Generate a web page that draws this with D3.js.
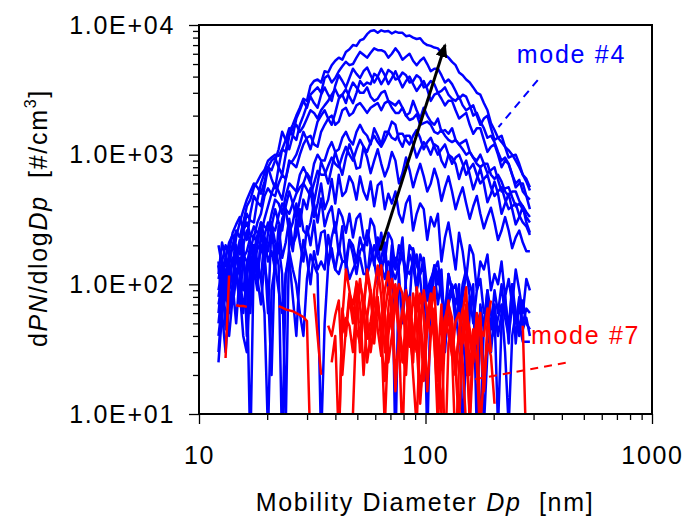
<!DOCTYPE html>
<html>
<head>
<meta charset="utf-8">
<script src="https://cdn.jsdelivr.net/npm/d3@7"></script>
<style>
  html, body { margin: 0; padding: 0; background: #fff; }
  text { font-family: "Liberation Sans", Arial, sans-serif; }
</style>
</head>
<body>
<div id="chart"></div>
<script>
// Mobility diameters of the size bins [nm] (64 bins per decade)
const diameters = [
  12.19, 12.64, 13.10, 13.58, 14.08, 14.59, 15.13, 15.68, 16.26, 16.85,
  17.47, 18.11, 18.77, 19.46, 20.17, 20.91, 21.68, 22.47, 23.29, 24.15,
  25.03, 25.95, 26.90, 27.88, 28.90, 29.96, 31.06, 32.20, 33.38, 34.60,
  35.87, 37.18, 38.54, 39.95, 41.42, 42.93, 44.51, 46.14, 47.83, 49.58,
  51.40, 53.28, 55.23, 57.25, 59.35, 61.52, 63.78, 66.11, 68.53, 71.04,
  73.65, 76.34, 79.14, 82.04, 85.04, 88.16, 91.39, 94.73, 98.20, 101.8,
  105.5, 109.4, 113.4, 117.6, 121.9, 126.3, 131.0, 135.8, 140.7, 145.9,
  151.2, 156.8, 162.5, 168.5, 174.6, 181.0, 187.7, 194.5, 201.7, 209.0,
  216.7, 224.6, 232.9, 241.4, 250.2, 259.4, 268.9, 278.8, 289.0];

// mode #4 scans (dPN/dlogDp, #/cm3)
const mode4Scan01 = [
  120, 210, 160, 140, 200, 260, 230, 300, 400, 450,
  560, 620, 700, 760, 900, 950, 1000, 980, 1100, 1050,
  1500, 1700, 2000, 2300, 2700, 2600, 3400, 3700, 3800, 3600,
  4400, 4300, 4900, 5300, 5600, 5400, 6200, 6500, 7000, 6900,
  7600, 7800, 8500, 9000, 9100, 8700, 9100, 8900, 9000, 8600,
  8900, 8700, 8700, 8200, 8300, 8000, 7800, 7900, 7300, 7000,
  6900, 6700, 6600, 6100, 5900, 5600, 5200, 4900, 4300, 4100,
  3800, 3600, 3300, 3000, 2900, 2500, 2200, 1750, 1550, 1350,
  1250, 1150, 1080, 1000, 900, 800, 700, 620, 530];
const mode4Scan02 = [
  110, 150, 200, 170, 140, 230, 300, 370, 450, 520,
  600, 560, 500, 620, 800, 760, 900, 1100, 1500, 1300,
  1100, 1400, 1900, 2200, 2600, 2300, 2900, 3100, 3300, 3000,
  3900, 4100, 3600, 3900, 4400, 4800, 5200, 4900, 5000, 5600,
  6200, 5900, 5600, 6100, 6600, 6400, 6400, 6200, 5600, 6000,
  6600, 6100, 5400, 5700, 6000, 5300, 4900, 5300, 5600, 5000,
  4400, 4600, 4600, 4100, 3600, 3800, 3500, 3100, 2700, 2900,
  2800, 2400, 2000, 2100, 1800, 1600, 1350, 1400, 1250, 1050,
  900, 950, 850, 700, 600, 640, 520, 480, 450];
const mode4Scan03 = [
  90, 130, 160, 210, 240, 190, 170, 260, 350, 310,
  300, 450, 600, 720, 800, 650, 550, 800, 1100, 1300,
  1600, 1400, 1300, 1700, 2000, 2400, 2800, 2500, 2300, 2900,
  3300, 2900, 2600, 3400, 4100, 3700, 3300, 3900, 4600, 4200,
  3900, 4400, 4700, 4100, 3600, 4000, 4600, 4100, 3500, 3900,
  4400, 3800, 3300, 3700, 4000, 3500, 3100, 3400, 3700, 3200,
  2600, 2900, 3000, 2700, 2400, 2600, 2600, 2200, 1900, 2000,
  2100, 1700, 1450, 1600, 1600, 1300, 1050, 1150, 1200, 1000,
  800, 900, 850, 700, 560, 600, 600, 480, 380];
const mode4Scan04 = [
  70, 100, 120, 160, 200, 170, 150, 160, 180, 230,
  280, 250, 240, 320, 400, 500, 600, 520, 450, 650,
  850, 900, 1000, 1200, 1500, 1300, 1100, 1400, 1800, 2000,
  2200, 1900, 1700, 2100, 2700, 2900, 3200, 2800, 2500, 3000,
  3700, 3400, 3600, 3500, 4200, 4000, 3500, 3900, 4500, 4300,
  3800, 3900, 4300, 4100, 3600, 3700, 4100, 3900, 3300, 3400,
  3700, 3500, 3000, 3100, 3300, 2900, 2700, 2600, 2800, 2400,
  2200, 2300, 2400, 2000, 1700, 1900, 2000, 1600, 1300, 1350,
  1400, 1150, 950, 980, 1000, 850, 700, 650, 560];
const mode4Scan05 = [
  140, 110, 100, 180, 250, 290, 330, 260, 220, 350,
  480, 430, 400, 560, 800, 900, 950, 800, 700, 1000,
  1400, 1600, 1700, 1500, 1650, 1900, 2200, 2100, 1900, 2200,
  2400, 2600, 2900, 3200, 2800, 2900, 2500, 3100, 3600, 3300,
  3000, 3000, 3300, 2800, 2600, 2700, 3000, 3100, 2600, 2500,
  2400, 2600, 2300, 2000, 2100, 2600, 2200, 1900, 2300, 2000,
  1800, 1700, 1900, 1500, 1550, 1450, 1600, 1300, 1200, 1250,
  1300, 1050, 950, 900, 1000, 850, 720, 760, 800, 640,
  520, 550, 560, 470, 400, 420, 380, 330, 300];
const mode4Scan06 = [
  60, 110, 150, 120, 110, 160, 200, 260, 300, 240,
  230, 300, 350, 480, 550, 500, 480, 600, 700, 650,
  900, 850, 800, 1000, 1200, 1350, 1400, 1200, 1150, 1500,
  1700, 1900, 2000, 1700, 1800, 2200, 2300, 2000, 2100, 2400,
  2500, 2300, 2100, 2300, 2400, 2500, 2200, 2500, 2600, 2300,
  2100, 2100, 2300, 2000, 1850, 1900, 2050, 1700, 1750, 1800,
  1700, 1500, 1450, 1550, 1400, 1300, 1250, 1300, 1200, 1100,
  1000, 1050, 950, 850, 800, 850, 850, 700, 650, 700,
  620, 520, 480, 520, 520, 440, 400, 360, 330];
const mode4Scan07 = [
  200, 140, 80, 120, 150, 130, 120, 200, 260, 210,
  180, 240, 300, 280, 260, 350, 450, 420, 350, 480,
  600, 560, 520, 700, 800, 700, 600, 850, 1000, 900,
  900, 1100, 1250, 1050, 1100, 1350, 1500, 1300, 1200, 1500,
  1700, 1500, 1400, 1200, 1600, 1400, 1200, 1500, 1500, 1800,
  1700, 1300, 1150, 1400, 1400, 1200, 950, 1100, 1250, 1150,
  1000, 1200, 1150, 900, 800, 1000, 950, 850, 650, 800,
  900, 700, 540, 650, 780, 600, 430, 500, 620, 500,
  350, 420, 500, 380, 290, 330, 400, 300, 250];
const mode4Scan08 = [
  50, 90, 130, 100, 90, 160, 220, 170, 150, 120,
  110, 200, 300, 230, 180, 280, 380, 300, 260, 400,
  520, 420, 330, 450, 600, 720, 650, 430, 600, 880,
  750, 600, 800, 1050, 850, 700, 950, 1200, 1000, 780,
  800, 1150, 950, 720, 900, 1100, 850, 680, 800, 1050,
  900, 600, 720, 950, 760, 560, 700, 850, 680, 520,
  600, 780, 640, 440, 560, 680, 520, 380, 470, 560,
  420, 320, 400, 480, 350, 270, 330, 390, 300, 220,
  260, 330, 260, 190, 230, 260, 210, 180, 180];
const mode4Scan09 = [
  30, 70, 90, 60, 100, 170, 120, 90, 140, 200,
  150, 120, 200, 150, 250, 300, 210, 190, 320, 380,
  250, 300, 420, 280, 450, 380, 550, 330, 420, 600,
  380, 450, 650, 420, 700, 480, 520, 680, 600, 450,
  680, 520, 450, 620, 400, 580, 620, 380, 500, 420,
  520, 350, 300, 420, 480, 260, 350, 420, 380, 220,
  330, 280, 350, 150, 230, 300, 200, 130, 250, 180,
  110, 200, 170, 90, 150, 130, 170, 90, 120, 100,
  150, 80, 110, 70, 130, 90, 60, 110, 90];
const mode4Scan10 = [
  140, 90, 60, 40, 80, 120, 70, 160, 100, 60,
  200, 130, 110, 230, 150, 180, 130, 280, 160, 210,
  320, 200, 240, 380, 260, 240, 300, 420, 300, 460,
  280, 350, 400, 250, 380, 330, 250, 350, 230, 320,
  350, 230, 200, 320, 280, 170, 250, 150, 250, 220,
  130, 200, 170, 110, 200, 180, 90, 170, 140, 75,
  100, 140, 120, 80, 60, 120, 90, 100, 60, 100,
  130, 80, 50, 90, 110, 60, 70, 45, 90, 60,
  100, 55, 40, 70, 50, 80, 45, 55, 40];
const mode4Scan11 = [
  25, 60, 80, 150, 100, 50, 120, 220, 40, 170,
  130, 90, 260, 180, 60, 300, 140, 200, 120, 8,
  250, 180, 320, 210, 150, 280, 200, 310, 170, 250,
  260, 140, 230, 300, 170, 280, 130, 220, 200, 150,
  230, 180, 260, 200, 140, 230, 120, 180, 90, 200,
  5, 150, 230, 90, 70, 190, 140, 120, 160, 90,
  60, 140, 100, 130, 40, 120, 90, 70, 100, 6,
  35, 80, 70, 50, 60, 8, 30, 50, 70, 40,
  60, 80, 45, 100, 35, 70, 50, 65, 60];
const mode4Scan12 = [
  150, 60, 30, 70, 100, 200, 130, 60, 120, 5,
  180, 110, 70, 150, 90, 20, 200, 140, 5, 120,
  160, 80, 40, 130, 220, 160, 100, 180, 130, 150,
  130, 240, 170, 130, 190, 150, 150, 220, 170, 120,
  180, 200, 110, 200, 150, 100, 160, 210, 100, 130,
  160, 120, 50, 110, 170, 140, 90, 120, 140, 6,
  90, 130, 70, 110, 30, 70, 90, 50, 80, 40,
  20, 60, 100, 7, 70, 45, 90, 30, 60, 8,
  50, 80, 35, 100, 60, 40, 75, 50, 45];
const mode4Scan13 = [
  80, 120, 45, 90, 160, 120, 90, 40, 30, 110,
  200, 150, 110, 60, 7, 90, 140, 90, 60, 120,
  180, 130, 100, 60, 40, 110, 170, 140, 120, 6,
  50, 140, 190, 130, 120, 150, 150, 110, 130, 150,
  160, 120, 120, 150, 200, 160, 140, 110, 150, 130,
  110, 140, 170, 130, 120, 150, 170, 110, 60, 90,
  110, 130, 150, 90, 60, 80, 100, 60, 35, 80,
  120, 100, 80, 40, 7, 50, 90, 60, 40, 55,
  70, 30, 8, 40, 60, 50, 36, 36, 36];
const mode4Scan14 = [
  40, 70, 100, 80, 70, 110, 160, 140, 120, 180,
  240, 200, 180, 240, 300, 280, 260, 340, 420, 380,
  350, 420, 500, 560, 600, 540, 480, 600, 750, 700,
  700, 820, 950, 850, 800, 980, 1150, 1000, 900, 1100,
  1300, 1150, 1050, 1250, 1400, 1250, 1150, 1300, 1500, 1350,
  1300, 1450, 1450, 1300, 1200, 1400, 1550, 1350, 1100, 1250,
  1350, 1150, 1000, 1100, 1200, 1000, 850, 950, 1000, 850,
  700, 780, 850, 700, 600, 650, 700, 560, 480, 520,
  560, 450, 380, 400, 420, 340, 300, 280, 240];

// mode #7 scans (null = no count in that bin)
const mode7Scan01 = [
  null, null, 27, 117, null, null, null, null, null, null,
  null, null, null, null, null, null, null, 68, 66, 64,
  63, 62, 60, 58, 56, 52, 5, null, null, null,
  null, null, null, null, null, 42, 55, 48, 30, 70,
  110, 60, 38, 52, 80, 45, 28, 60, 95, 70,
  20, 35, 62, 48, 33, 85, 55, 14, 30, 48,
  72, 40, 18, 35, 56, 42, 28, 52, 60, 25,
  8, null, null, null, null, null, null, null, null, null,
  null, null, null, null, null, null, null, null, null];
const mode7Scan02 = [
  null, null, null, null, null, 69, 68, 68, 67, null,
  null, null, null, null, null, null, null, null, null, null,
  null, null, null, null, null, null, null, null, null, null,
  null, null, 25, 40, 6, 55, 130, 90, 60, 45,
  35, 70, 120, 80, 45, 100, 140, 60, 25, 40,
  70, 100, 85, 30, 55, 20, 8, 45, 90, 60,
  40, 65, 35, 22, 50, 75, 30, 5, 25, 40,
  60, 45, 30, 55, 8, 20, 35, 28, 12, null,
  null, null, null, null, null, null, null, null, null];
const mode7Scan03 = [
  null, null, null, null, null, null, null, null, null, null,
  null, null, null, null, null, null, null, null, null, null,
  null, null, null, null, null, null, null, 85, 40, 20,
  null, 48, 40, 58, 75, 20, 45, 85, 70, 100,
  30, 60, 130, 90, 50, 80, 35, 18, 65, 110,
  75, 45, 25, 55, 70, 40, 35, 12, 30, 60,
  85, 40, 8, 30, 55, 70, 45, 25, 40, 60,
  95, 20, 45, 35, 60, 15, 40, null, null, null,
  null, null, null, null, null, null, null, null, null];
const mode7Scan04 = [
  null, null, null, null, null, null, null, null, null, null,
  null, null, null, null, null, null, null, null, null, null,
  null, null, null, null, null, null, null, null, null, null,
  null, null, null, null, null, null, null, null, 10, 60,
  100, 75, 55, 30, 50, 75, 45, 90, 125, 60,
  15, 40, 65, 90, 40, 25, 95, 60, 25, 50,
  80, 35, 12, 30, 45, 70, 55, 20, 40, 35,
  60, 8, 30, 50, 45, 40, 65, 30, null, null,
  null, null, null, null, null, null, 48, 5, null];
const mode7Scan05 = [
  null, null, null, null, null, null, null, null, null, null,
  null, null, null, null, null, null, null, null, null, null,
  null, null, null, null, null, null, null, null, null, null,
  null, null, null, null, 5, 65, 40, 80, 50, 105,
  70, 20, 55, 90, 35, 70, 45, 8, 40, 75,
  100, 50, 30, 20, 65, 45, 30, 85, 60, 15,
  40, 55, 25, 70, 4, 35, 50, 20, 45, 65,
  30, 10, 40, 25, 6, null, null, null, null, null,
  null, null, null, null, null, null, null, null, null];
const mode7Scan06 = [
  null, null, null, null, null, null, null, null, null, null,
  null, null, null, null, null, null, null, null, null, null,
  null, null, null, null, null, null, null, null, null, null,
  null, null, null, null, null, null, null, null, null, null,
  50, 70, 25, 40, 90, 140, 80, 30, 60, 45,
  85, 40, 6, 55, 80, 30, 75, 50, 18, 45,
  60, 95, 28, 10, 40, 55, 35, 22, 8, 45,
  70, 38, 25, 60, 40, 15, 50, 75, null, null,
  null, null, null, null, null, null, null, null, null];

const mode4Scans = [mode4Scan13, mode4Scan12, mode4Scan11, mode4Scan10, mode4Scan09, mode4Scan08, mode4Scan14,
  mode4Scan07, mode4Scan06, mode4Scan05, mode4Scan04, mode4Scan03, mode4Scan02, mode4Scan01];
const mode7Scans = [mode7Scan01, mode7Scan02, mode7Scan03, mode7Scan04, mode7Scan05, mode7Scan06];

// Axis ticks
const xMajorTicks = [10, 100, 1000];
const yMajorTicks = [10, 100, 1000, 10000];
const yTickLabels = ["1.0E+01", "1.0E+02", "1.0E+03", "1.0E+04"];

// Annotations in data units [Dp, dPN/dlogDp]
const growthArrow = [[63, 182], [122, 7000]];
const mode4Leader = [[313, 3760], [210, 1630]];
const mode7Leader = [[416, 24.8], [158, 18.3]];
const mode4LabelAt = [253, 5090];
const mode7LabelAt = [292, 34.8];

const width = 687;
const height = 527;
const margin = { top: 25, right: 35, bottom: 113, left: 199 };

const svg = d3.select("#chart")
  .append("svg")
  .attr("width", width)
  .attr("height", height);

const x = d3.scaleLog().domain([10, 1000]).range([margin.left, width - margin.right]);
const y = d3.scaleLog().domain([10, 10000]).range([height - margin.bottom, margin.top]);

const fontSize = 25;
const spacing = "1.7px";

// minor ticks 2..9 of every decade
function minorTicks(lo, hi) {
  const out = [];
  for (let d = lo; d < hi; d *= 10) {
    for (let k = 2; k <= 9; k++) out.push(d * k);
  }
  return out;
}

// Clip for the data lines
svg.append("clipPath")
  .attr("id", "plotClip")
  .append("rect")
  .attr("x", margin.left)
  .attr("y", margin.top)
  .attr("width", width - margin.right - margin.left)
  .attr("height", height - margin.bottom - margin.top);

// x axis
const xAxisMinor = d3.axisBottom(x).tickValues(minorTicks(10, 1000)).tickSize(6).tickFormat("");
const xAxisMajor = d3.axisBottom(x).tickValues(xMajorTicks).tickSize(10).tickPadding(22).tickFormat(d3.format("d"));

svg.append("g")
  .attr("transform", `translate(0,${height - margin.bottom})`)
  .call(xAxisMinor)
  .call(g => g.select(".domain").remove())
  .call(g => g.selectAll("line").attr("stroke", "#000").attr("stroke-width", 1.3));

svg.append("g")
  .attr("transform", `translate(0,${height - margin.bottom})`)
  .call(xAxisMajor)
  .call(g => g.select(".domain").remove())
  .call(g => g.selectAll("line").attr("stroke", "#000").attr("stroke-width", 1.3))
  .call(g => g.selectAll("text")
    .attr("fill", "#000")
    .style("font-size", fontSize + "px")
    .style("letter-spacing", spacing)
    .style("font-family", "'Liberation Sans', Arial, sans-serif"));

// y axis
const yAxisMinor = d3.axisLeft(y).tickValues(minorTicks(10, 10000)).tickSize(6).tickFormat("");
const yAxisMajor = d3.axisLeft(y).tickValues(yMajorTicks).tickSize(10).tickPadding(14)
  .tickFormat((d, i) => yTickLabels[i]);

svg.append("g")
  .attr("transform", `translate(${margin.left},0)`)
  .call(yAxisMinor)
  .call(g => g.select(".domain").remove())
  .call(g => g.selectAll("line").attr("stroke", "#000").attr("stroke-width", 1.3));

svg.append("g")
  .attr("transform", `translate(${margin.left},0)`)
  .call(yAxisMajor)
  .call(g => g.select(".domain").remove())
  .call(g => g.selectAll("line").attr("stroke", "#000").attr("stroke-width", 1.3))
  .call(g => g.selectAll("text")
    .attr("fill", "#000")
    .style("font-size", fontSize + "px")
    .style("letter-spacing", spacing)
    .style("font-family", "'Liberation Sans', Arial, sans-serif"));

// Data lines
const line = d3.line()
  .defined(d => d[1] != null)
  .x(d => x(d[0]))
  .y(d => y(d[1]));

const plot = svg.append("g").attr("clip-path", "url(#plotClip)");

plot.append("g")
  .attr("class", "mode4")
  .selectAll("path")
  .data(mode4Scans)
  .enter()
  .append("path")
  .attr("fill", "none")
  .attr("stroke", "#0000ff")
  .attr("stroke-width", 2.5)
  .attr("stroke-linejoin", "round")
  .attr("d", scan => line(diameters.map((dp, i) => [dp, scan[i]])));

plot.append("g")
  .attr("class", "mode7")
  .selectAll("path")
  .data(mode7Scans)
  .enter()
  .append("path")
  .attr("fill", "none")
  .attr("stroke", "#ff0000")
  .attr("stroke-width", 2.5)
  .attr("stroke-linejoin", "round")
  .attr("d", scan => line(diameters.map((dp, i) => [dp, scan[i]])));

// Plot frame
svg.append("rect")
  .attr("x", margin.left)
  .attr("y", margin.top)
  .attr("width", width - margin.right - margin.left)
  .attr("height", height - margin.bottom - margin.top)
  .attr("fill", "none")
  .attr("stroke", "#000")
  .attr("stroke-width", 2);

// Growth arrow
svg.append("defs")
  .append("marker")
  .attr("id", "arrowHead")
  .attr("markerUnits", "userSpaceOnUse")
  .attr("viewBox", "0 0 14 12")
  .attr("refX", 12)
  .attr("refY", 6)
  .attr("markerWidth", 14)
  .attr("markerHeight", 12)
  .attr("orient", "auto")
  .append("path")
  .attr("d", "M0,0 L14,6 L0,12 Z")
  .attr("fill", "#000");

svg.append("line")
  .attr("x1", x(growthArrow[0][0]))
  .attr("y1", y(growthArrow[0][1]))
  .attr("x2", x(growthArrow[1][0]))
  .attr("y2", y(growthArrow[1][1]))
  .attr("stroke", "#000")
  .attr("stroke-width", 3)
  .attr("marker-end", "url(#arrowHead)");

// Mode labels and dashed leaders
svg.append("line")
  .attr("x1", x(mode4Leader[0][0])).attr("y1", y(mode4Leader[0][1]))
  .attr("x2", x(mode4Leader[1][0])).attr("y2", y(mode4Leader[1][1]))
  .attr("stroke", "#0000ff").attr("stroke-width", 2).attr("stroke-dasharray", "8,6");

svg.append("line")
  .attr("x1", x(mode7Leader[0][0])).attr("y1", y(mode7Leader[0][1]))
  .attr("x2", x(mode7Leader[1][0])).attr("y2", y(mode7Leader[1][1]))
  .attr("stroke", "#ff0000").attr("stroke-width", 2).attr("stroke-dasharray", "8,6");

svg.append("text")
  .attr("x", x(mode4LabelAt[0]))
  .attr("y", y(mode4LabelAt[1]))
  .attr("fill", "#0000ff")
  .style("font-size", fontSize + "px")
  .style("letter-spacing", spacing)
  .text("mode #4");

svg.append("text")
  .attr("x", x(mode7LabelAt[0]))
  .attr("y", y(mode7LabelAt[1]))
  .attr("fill", "#ff0000")
  .style("font-size", fontSize + "px")
  .style("letter-spacing", spacing)
  .text("mode #7");

// Axis titles
const xTitle = svg.append("text")
  .attr("x", 425)
  .attr("y", 511)
  .attr("text-anchor", "middle")
  .attr("fill", "#000")
  .style("font-size", fontSize + "px")
  .style("letter-spacing", spacing)
  .style("white-space", "pre");
xTitle.append("tspan").text("Mobility Diameter ");
xTitle.append("tspan").style("font-style", "italic").text("Dp");
xTitle.append("tspan").text("  [nm]");

const yTitle = svg.append("text")
  .attr("transform", "translate(47,218) rotate(-90)")
  .attr("text-anchor", "middle")
  .attr("fill", "#000")
  .style("font-size", fontSize + "px")
  .style("letter-spacing", spacing)
  .style("white-space", "pre");
yTitle.append("tspan").text("d");
yTitle.append("tspan").style("font-style", "italic").text("PN");
yTitle.append("tspan").text("/dlog");
yTitle.append("tspan").style("font-style", "italic").text("Dp");
yTitle.append("tspan").text("  [#/cm");
yTitle.append("tspan").attr("dy", -11).style("font-size", "16px").text("3");
yTitle.append("tspan").attr("dy", 11).text("]");
</script>
</body>
</html>
